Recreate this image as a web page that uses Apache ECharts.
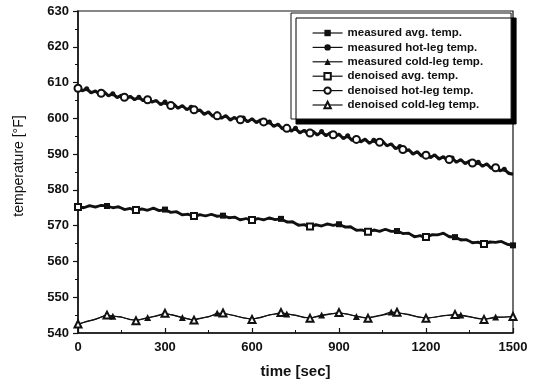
<!DOCTYPE html>
<html>
<head>
<meta charset="utf-8">
<script src="https://cdn.jsdelivr.net/npm/echarts@6/dist/echarts.min.js"></script>
<style>
  html, body { margin: 0; padding: 0; background: #fff; }
  #chart { width: 539px; height: 386px; }
</style>
</head>
<body>
<div id="chart"></div>
<script>
// x positions (sec) of each series' samples
function timeSteps(start, end, step) {
  const arr = []
  for (let t = start; t <= end; t += step) arr.push(t)
  return arr
}

const seriesNames = [
  'measured avg. temp.',
  'measured hot-leg temp.',
  'measured cold-leg temp.',
  'denoised avg. temp.',
  'denoised hot-leg temp.',
  'denoised cold-leg temp.',
]

const xTicks = [0, 300, 600, 900, 1200, 1500]
const yTicks = [540, 550, 560, 570, 580, 590, 600, 610, 620, 630]

// measured hot-leg, every 15 s
const hotMeasuredTime = timeSteps(0, 1500, 15)
const hotMeasured = [
  608.6, 607.7, 608.3, 607.1, 607.7, 606.6, 607.4, 606.3, 606.9, 605.8,
  606.5, 605.4, 606.2, 605.2, 605.9, 604.9, 605.7, 604.5, 605.0, 603.8,
  604.6, 603.3, 604.0, 602.8, 603.6, 602.4, 603.1, 601.8, 602.4, 601.1,
  601.8, 600.5, 601.2, 600.0, 600.8, 599.5, 600.3, 599.2, 600.1, 599.0,
  599.9, 598.8, 599.6, 598.4, 599.0, 597.7, 598.4, 597.0, 597.7, 596.4,
  597.2, 595.9, 596.7, 595.5, 596.4, 595.3, 596.3, 595.1, 596.0, 594.8,
  595.6, 594.3, 595.1, 593.8, 594.6, 593.4, 594.2, 593.0, 593.9, 592.8,
  593.7, 592.3, 592.9, 591.5, 592.1, 590.6, 591.3, 590.0, 590.7, 589.4,
  590.2, 589.0, 589.8, 588.6, 589.3, 588.1, 588.9, 587.7, 588.5, 587.3,
  588.1, 586.9, 587.7, 586.6, 587.3, 586.0, 586.7, 585.3, 585.8, 584.6,
  584.4,
]
const hotMeasuredMarks = [30, 120, 210, 300, 390, 480, 570, 660, 750, 840, 930, 1020, 1110, 1200, 1290, 1380, 1470]

// measured average, every 20 s
const avgMeasuredTime = timeSteps(0, 1500, 20)
const avgMeasured = [
  575.4, 575.0, 575.6, 575.2, 575.7, 575.5, 575.0, 575.3, 574.5, 574.8,
  574.2, 574.7, 574.3, 574.9, 574.2, 574.5, 573.7, 573.9, 573.0, 573.2,
  572.5, 573.1, 572.7, 573.2, 572.6, 572.8, 572.2, 572.4, 571.6, 572.0,
  571.4, 572.0, 571.6, 572.2, 571.7, 571.9, 571.0, 571.1, 570.1, 570.3,
  569.6, 570.3, 569.9, 570.5, 570.1, 570.4, 569.6, 569.7, 568.7, 568.8,
  568.1, 568.8, 568.4, 569.0, 568.4, 568.5, 567.8, 567.9, 566.9, 567.2,
  566.6, 567.5, 567.4, 567.9, 566.9, 566.8, 566.0, 566.1, 565.2, 565.4,
  564.7, 565.5, 565.3, 565.6, 564.8, 564.5,
]
const avgMeasuredMarks = [100, 300, 500, 700, 900, 1100, 1300, 1500]

// measured cold-leg, every 30 s
const coldMeasuredTime = timeSteps(0, 1500, 30)
const coldMeasured = [
  542.4, 543.3, 543.8, 544.8, 544.7, 544.5, 543.7, 543.7, 544.3, 544.7,
  545.4, 545.0, 544.3, 543.7, 544.1, 544.5, 545.6, 545.3, 544.9, 544.2,
  543.9, 544.3, 545.1, 545.4, 545.3, 545.0, 544.3, 544.4, 545.0, 545.4,
  545.6, 545.3, 544.6, 544.2, 544.6, 545.1, 545.9, 545.5, 545.2, 544.5,
  544.2, 544.4, 544.9, 545.0, 545.0, 544.6, 544.0, 544.0, 544.5, 544.4,
  544.6,
]
const coldMeasuredMarks = [120, 240, 360, 480, 600, 720, 840, 960, 1080, 1200, 1320, 1440]

// denoised hot-leg
const hotDenoisedTime = [
  0, 40, 80, 120, 160, 200, 240, 280, 320, 360, 400, 440, 480, 520, 560, 600, 640, 680, 720, 760,
  800, 840, 880, 920, 960, 1000, 1040, 1080, 1120, 1160, 1200, 1240, 1280, 1320, 1360, 1400, 1440, 1480, 1500,
]
const hotDenoised = [
  608.4, 607.6, 607.0, 606.4, 605.9, 605.6, 605.2, 604.4, 603.6, 603.1,
  602.4, 601.5, 600.7, 600.1, 599.6, 599.4, 599.0, 598.1, 597.2, 596.5,
  595.9, 595.8, 595.4, 594.8, 594.1, 593.6, 593.3, 592.4, 591.3, 590.4,
  589.7, 589.2, 588.5, 588.0, 587.5, 587.0, 586.2, 585.1, 584.6,
]
const hotDenoisedMarks = [0, 80, 160, 240, 320, 400, 480, 560, 640, 720, 800, 880, 960, 1040, 1120, 1200, 1280, 1360, 1440]

// denoised average, every 50 s
const avgDenoisedTime = timeSteps(0, 1500, 50)
const avgDenoised = [
  575.2, 575.4, 575.4, 574.9, 574.4, 574.6, 574.4, 573.4, 572.7, 573.0,
  572.8, 572.0, 571.6, 571.9, 571.8, 570.6, 569.8, 570.2, 570.4, 569.2,
  568.3, 568.7, 568.5, 567.4, 566.8, 567.8, 566.8, 565.6, 564.9, 565.6,
  564.6,
]
const avgDenoisedMarks = [0, 200, 400, 600, 800, 1000, 1200, 1400]

// denoised cold-leg, every 50 s
const coldDenoisedTime = timeSteps(0, 1500, 50)
const coldDenoised = [
  542.5, 543.6, 545.0, 544.4, 543.4, 544.4, 545.5, 544.5, 543.6, 544.6,
  545.6, 544.6, 543.8, 544.8, 545.7, 544.9, 544.1, 545.0, 545.7, 544.9,
  544.1, 545.0, 545.8, 544.9, 544.1, 544.7, 545.2, 544.5, 543.8, 544.4,
  544.6,
]
const coldDenoisedMarks = [0, 100, 200, 300, 400, 500, 600, 700, 800, 900, 1000, 1100, 1200, 1300, 1400, 1500]

const FONT = "'Liberation Sans', Arial, sans-serif"
const INK = '#111'

function buildData(times, values, marks) {
  return times.map((t, i) => {
    const item = { value: [t, values[i]] }
    if (marks.indexOf(t) < 0) item.symbol = 'none'
    return item
  })
}

function lineSeries(name, times, values, marks, symbol, size, width) {
  return {
    name,
    type: 'line',
    data: buildData(times, values, marks),
    symbol,
    symbolSize: size,
    showSymbol: true,
    showAllSymbol: true,
    lineStyle: { color: INK, width },
    itemStyle: { color: INK, borderWidth: 1.2 },
    emphasis: { disabled: true },
    z: 2,
  }
}

const chart = echarts.init(document.getElementById('chart'))

chart.setOption({
  animation: false,
  backgroundColor: '#fff',
  grid: { left: 78, right: 26, top: 11, bottom: 53, show: true, borderColor: INK, borderWidth: 1.2 },
  legend: {
    orient: 'vertical',
    left: 291,
    top: 13,
    data: seriesNames,
    itemWidth: 30,
    itemHeight: 8,
    itemGap: 2.4,
    padding: [14, 28, 8, 21],
    backgroundColor: '#fff',
    borderColor: INK,
    borderWidth: 1,
    shadowColor: '#000',
    shadowBlur: 0,
    shadowOffsetX: 5,
    shadowOffsetY: 5,
    lineStyle: { width: 1.2 },
    textStyle: { color: INK, fontSize: 11.5, fontWeight: 'bold', fontFamily: FONT, lineHeight: 12 },
  },
  xAxis: {
    type: 'value',
    min: 0,
    max: 1500,
    interval: 300,
    name: 'time [sec]',
    nameLocation: 'middle',
    nameGap: 31,
    nameTextStyle: { color: INK, fontSize: 15, fontWeight: 'bold', fontFamily: FONT },
    axisLine: { onZero: false, lineStyle: { color: INK, width: 1.5 } },
    axisTick: { inside: true, length: 5, lineStyle: { color: INK, width: 1.2 } },
    minorTick: { show: true, splitNumber: 2, length: 3, lineStyle: { color: INK } },
    axisLabel: {
      color: INK, fontSize: 13, fontWeight: 'bold', fontFamily: FONT, margin: 8,
      formatter: v => (xTicks.indexOf(v) >= 0 ? String(v) : ''),
    },
    splitLine: { show: false },
  },
  yAxis: {
    type: 'value',
    min: 540,
    max: 630,
    interval: 10,
    name: 'temperature [°F]',
    nameLocation: 'middle',
    nameGap: 52,
    nameTextStyle: { color: INK, fontSize: 14, fontFamily: FONT, padding: [0, 0, 0, 12] },
    axisLine: { onZero: false, lineStyle: { color: INK, width: 1.5 } },
    axisTick: { inside: false, length: 5, lineStyle: { color: INK, width: 1.2 } },
    minorTick: { show: true, splitNumber: 2, length: 3, lineStyle: { color: INK } },
    axisLabel: {
      color: INK, fontSize: 13, fontWeight: 'bold', fontFamily: FONT, margin: 9,
      formatter: v => (yTicks.indexOf(v) >= 0 ? String(v) : ''),
    },
    splitLine: { show: false },
  },
  series: [
    lineSeries(seriesNames[0], avgMeasuredTime, avgMeasured, avgMeasuredMarks, 'rect', 6, 2.8),
    lineSeries(seriesNames[1], hotMeasuredTime, hotMeasured, hotMeasuredMarks, 'circle', 5, 3),
    lineSeries(seriesNames[2], coldMeasuredTime, coldMeasured, coldMeasuredMarks, 'triangle', 7, 1.1),
    lineSeries(seriesNames[3], avgDenoisedTime, avgDenoised, avgDenoisedMarks, 'emptyRect', 6, 1.1),
    lineSeries(seriesNames[4], hotDenoisedTime, hotDenoised, hotDenoisedMarks, 'emptyCircle', 7, 1.1),
    lineSeries(seriesNames[5], coldDenoisedTime, coldDenoised, coldDenoisedMarks, 'emptyTriangle', 7, 1.1),
  ],
})
</script>
</body>
</html>
